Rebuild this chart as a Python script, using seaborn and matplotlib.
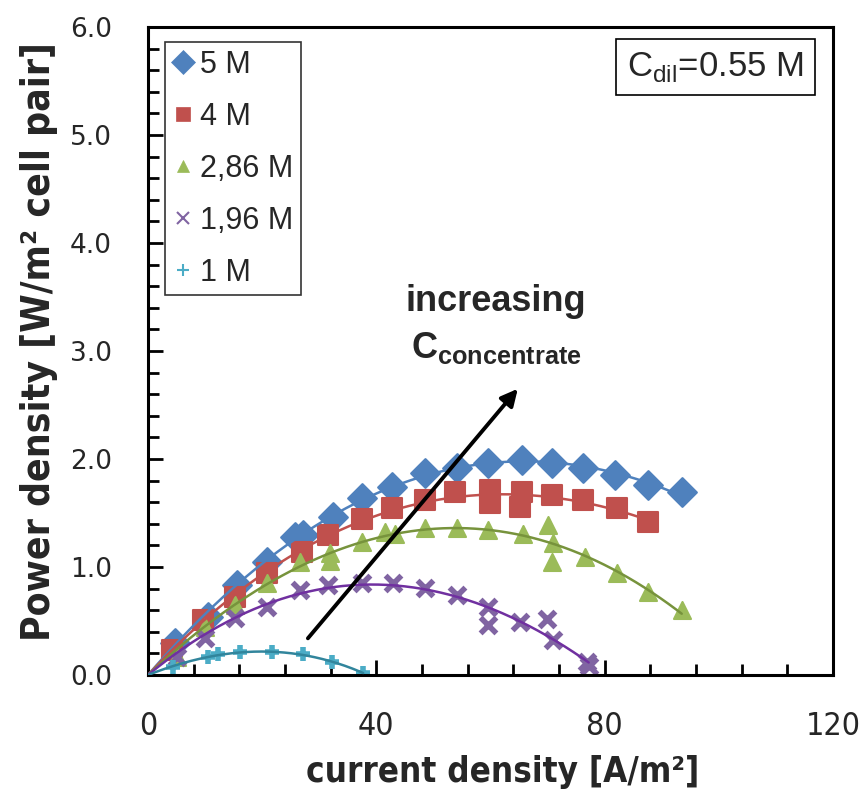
import numpy as np
import pandas as pd
import matplotlib
matplotlib.use("Agg")
import matplotlib.pyplot as plt
from matplotlib.lines import Line2D
from matplotlib.ticker import MultipleLocator, FixedLocator
import seaborn as sns

# current density [A/m2] / power density [W/m2 cell pair]
i_5m = [4.7, 10.5, 15.6, 20.8, 25.7, 27.1, 32.4, 37.5, 42.7, 48.5, 54.1, 59.5, 65.5, 70.8, 76.2, 81.8, 87.6, 93.5]
p_5m = [0.30, 0.54, 0.83, 1.05, 1.28, 1.30, 1.46, 1.64, 1.74, 1.87, 1.92, 1.96, 1.99, 1.96, 1.92, 1.85, 1.76, 1.69]

i_4m = [4.2, 9.6, 15.2, 20.8, 27.0, 31.5, 37.5, 42.7, 48.5, 53.8, 59.9, 59.9, 65.5, 65.1, 70.8, 76.2, 82.1, 87.6]
p_4m = [0.23, 0.51, 0.72, 0.94, 1.14, 1.30, 1.44, 1.55, 1.62, 1.69, 1.71, 1.59, 1.69, 1.56, 1.67, 1.62, 1.55, 1.42]

i_286m = [5.1, 10.0, 15.2, 20.8, 26.6, 31.9, 31.9, 37.5, 41.5, 43.3, 48.5, 54.1, 59.5, 65.7, 70.1, 70.9, 70.8, 76.5, 82.1, 87.6, 93.5]
p_286m = [0.17, 0.44, 0.65, 0.85, 1.05, 1.13, 1.06, 1.23, 1.32, 1.31, 1.36, 1.36, 1.34, 1.31, 1.39, 1.22, 1.05, 1.09, 0.94, 0.77, 0.60]

i_196m = [5.1, 10.0, 15.2, 20.8, 26.6, 31.5, 37.5, 42.9, 48.5, 54.1, 59.5, 59.5, 65.1, 69.9, 70.9, 76.9, 77.2]
p_196m = [0.17, 0.34, 0.53, 0.63, 0.79, 0.83, 0.85, 0.85, 0.81, 0.74, 0.63, 0.46, 0.49, 0.52, 0.32, 0.12, 0.08]

i_1m = [4.4, 10.5, 12.3, 16.1, 21.7, 27.1, 32.2, 37.7]
p_1m = [0.07, 0.17, 0.19, 0.21, 0.21, 0.19, 0.12, 0.02]

labels = ["5 M", "4 M", "2,86 M", "1,96 M", "1 M"]
series = [(i_5m, p_5m), (i_4m, p_4m), (i_286m, p_286m), (i_196m, p_196m), (i_1m, p_1m)]
marker_colors = ["#4F81BD", "#C0504D", "#9BBB59", "#8064A2", "#4BACC6"]
line_colors = ["#4F81BD", "#C0504D", "#77933C", "#7030A0", "#31859C"]
markers = ["D", "s", "^", "x", "+"]
sizes = [215, 200, 150, 130, 110]
leg_ms = [12, 10, 8, 8, 8]

sns.set_style("ticks")
plt.rcParams["font.family"] = ["Liberation Sans", "DejaVu Sans"]
plt.rcParams["mathtext.fontset"] = "custom"
plt.rcParams["mathtext.rm"] = "Liberation Sans"
plt.rcParams["mathtext.bf"] = "Liberation Sans:bold"

fig = plt.figure(figsize=(8.64, 7.91), dpi=100)
ax = fig.add_axes([148 / 864, 1 - 675 / 791, 685 / 864, 648 / 791])

for (cur, pw), lab, mc, lc, mk, s in zip(series, labels, marker_colors, line_colors, markers, sizes):
    df = pd.DataFrame({"i": cur, "p": pw})
    # polynomial trendline through the origin (like the excel one)
    A = np.column_stack([df.i, df.i ** 2, df.i ** 3])
    coef = np.linalg.lstsq(A, df.p, rcond=None)[0]
    xf = np.linspace(0, df.i.max(), 200)
    fit = pd.DataFrame({"i": xf, "p": coef[0] * xf + coef[1] * xf ** 2 + coef[2] * xf ** 3})
    sns.lineplot(data=fit, x="i", y="p", ax=ax, color=lc, lw=1.8, zorder=3)
    if mk in ("x", "+"):
        sns.scatterplot(data=df, x="i", y="p", ax=ax, marker=mk, color=mc, s=s,
                        linewidth=4, zorder=2)
    else:
        sns.scatterplot(data=df, x="i", y="p", ax=ax, marker=mk, color=mc, s=s,
                        edgecolor=mc, linewidth=1.5, zorder=2)

ax.set_xlim(0, 120)
ax.set_ylim(0, 6)
ax.xaxis.set_major_locator(FixedLocator([0, 40, 80, 120]))
ax.xaxis.set_minor_locator(MultipleLocator(8))
ax.yaxis.set_major_locator(MultipleLocator(1))
ax.yaxis.set_minor_locator(MultipleLocator(0.2))
ax.set_yticklabels([f"{v:.1f}" for v in ax.get_yticks()], family="DejaVu Sans")
ax.tick_params(which="both", direction="in", width=2, color="black")
ax.tick_params(which="major", length=11)
ax.tick_params(which="minor", length=8)
ax.tick_params(axis="y", which="major", pad=26, labelsize=19)
ax.tick_params(axis="x", which="major", pad=26, labelsize=23)
for t in ax.get_xticklabels():
    t.set_family("DejaVu Sans")
    t.set_stretch("condensed")
for sp in ax.spines.values():
    sp.set_linewidth(2.2)
    sp.set_color("black")

ax.set_xlabel("current density [A/m²]", fontsize=25, fontweight="bold",
              family="DejaVu Sans", stretch="condensed")
ax.xaxis.set_label_coords(0.518, -0.124)
ax.set_ylabel("Power density [W/m² cell pair]", fontsize=28, fontweight="bold",
              family="DejaVu Sans", stretch="condensed")
ax.yaxis.set_label_coords(-0.132, 0.515)

handles = [Line2D([], [], ls="none", marker=mk, color=mc, ms=ms,
                  markeredgewidth=1.5 if mk in ("x", "+") else 0.5)
           for mk, mc, ms in zip(markers, marker_colors, leg_ms)]
leg = ax.legend(handles, labels, loc="upper left", bbox_to_anchor=(0.025, 0.977),
                fontsize=22, frameon=True, fancybox=False, edgecolor="black",
                handlelength=0.7, handletextpad=0.2, labelspacing=0.72,
                borderpad=0.25, borderaxespad=0)
leg.get_frame().set_linewidth(1.2)

ax.text(0.828, 0.938, r"C$_{\rm dil}$=0.55 M", transform=ax.transAxes, fontsize=25,
        ha="center", va="center",
        bbox=dict(boxstyle="square,pad=0.32", fc="white", ec="black", lw=1.2))

ax.text(0.508, 0.577, "increasing", transform=ax.transAxes, fontsize=26,
        fontweight="bold", ha="center", va="center")
ax.text(0.508, 0.505, r"$\mathbf{C}_{\mathbf{concentrate}}$", transform=ax.transAxes,
        fontsize=26, ha="center", va="center")
ax.annotate("", xy=(65.1, 2.67), xytext=(27.7, 0.32),
            arrowprops=dict(arrowstyle="-|>", color="black", lw=2.8, mutation_scale=25))

fig.savefig("out.png", dpi=100)
